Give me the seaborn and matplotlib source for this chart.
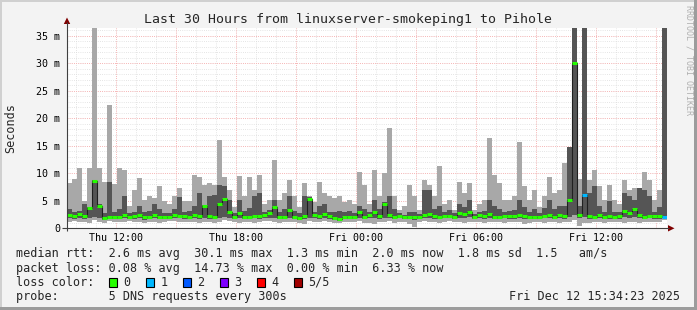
import numpy as np
import pandas as pd
import matplotlib
matplotlib.use("Agg")
import matplotlib.pyplot as plt
import seaborn as sns
from matplotlib.patches import Rectangle, Polygon

sns.set_style("white")
plt.rcParams["font.family"] = ["DejaVu Sans Mono", "DejaVu Sans"]

# ---------------- data (15-minute bins, milliseconds) ----------------
start_hour = 9.573          # Thu 09:34:23 (hours since Thu 00:00)
step_hours = 0.25

rtt_max = [8.2, 8.9, 10.9, 5.0, 10.9, 40.0, 10.9, 8.5, 22.4, 8.0,
           10.9, 10.6, 4.0, 7.0, 9.1, 5.2, 5.8, 5.5, 7.6, 5.0,
           4.5, 5.8, 7.3, 5.0, 5.0, 9.7, 9.4, 7.9, 8.2, 7.9,
           16.0, 9.4, 7.0, 3.9, 9.5, 5.8, 9.4, 7.0, 9.7, 4.5,
           5.2, 12.4, 5.2, 6.4, 8.8, 5.8, 3.9, 8.2, 5.8, 4.8,
           8.5, 6.4, 5.8, 5.5, 5.8, 4.8, 5.2, 4.5, 10.3, 7.9,
           4.5, 10.6, 5.8, 10.0, 18.2, 5.8, 3.3, 4.0, 7.9, 5.8,
           3.3, 8.8, 7.9, 5.8, 11.3, 4.5, 5.2, 3.3, 8.5, 6.4,
           8.2, 3.3, 4.5, 5.2, 16.4, 9.7, 8.2, 5.2, 5.2, 5.8,
           15.6, 7.6, 5.2, 7.0, 3.9, 5.8, 9.4, 6.4, 7.0, 11.8,
           14.8, 40.0, 9.0, 40.0, 8.8, 10.6, 7.6, 5.2, 7.9, 5.2,
           4.5, 8.8, 7.0, 7.3, 7.3, 10.3, 8.8, 5.2, 7.0, 40.0]

rtt_hi = [3.5, 3.0, 3.2, 4.4, 3.8, 8.8, 4.5, 2.8, 8.5, 3.0,
          3.5, 5.8, 2.8, 3.0, 4.0, 3.0, 3.2, 4.5, 3.5, 2.8,
          2.8, 3.5, 5.7, 3.0, 3.2, 4.0, 6.4, 4.2, 5.8, 6.1,
          7.9, 7.6, 5.2, 2.8, 5.2, 3.2, 3.6, 5.8, 6.4, 3.0,
          3.4, 5.2, 3.0, 3.5, 5.8, 3.2, 2.8, 5.8, 5.6, 3.0,
          4.0, 4.5, 3.0, 3.0, 3.2, 3.0, 3.2, 2.8, 4.0, 3.5,
          3.0, 5.2, 3.5, 4.8, 5.8, 3.5, 2.8, 2.5, 3.0, 3.0,
          2.6, 7.0, 6.9, 3.5, 4.0, 3.0, 3.4, 2.8, 4.5, 3.9,
          5.2, 2.6, 3.0, 3.2, 5.2, 4.0, 3.5, 3.0, 3.2, 3.4,
          5.2, 3.9, 3.0, 3.5, 2.8, 3.6, 5.2, 3.5, 4.0, 4.0,
          14.8, 40.0, 4.0, 40.0, 6.4, 7.6, 4.0, 3.0, 4.9, 3.0,
          3.0, 6.4, 5.8, 5.2, 7.3, 7.0, 5.8, 3.0, 3.9, 40.0]

rtt_med = [2.5, 2.2, 2.6, 2.2, 3.6, 8.6, 4.1, 1.9, 2.0, 2.0,
           2.0, 2.4, 2.0, 2.2, 2.5, 2.0, 2.0, 2.4, 2.0, 2.1,
           2.0, 2.5, 2.3, 2.2, 2.0, 2.4, 2.2, 4.1, 2.2, 2.0,
           4.5, 5.4, 3.0, 2.1, 2.7, 2.0, 2.1, 2.3, 2.2, 2.5,
           2.8, 3.9, 2.0, 2.0, 3.3, 2.1, 1.8, 2.3, 5.4, 2.5,
           2.2, 2.6, 2.2, 1.8, 1.6, 2.0, 2.0, 2.0, 3.0, 2.0,
           2.5, 3.0, 2.3, 4.5, 2.5, 2.0, 2.3, 2.0, 2.0, 2.0,
           2.0, 2.5, 2.6, 2.2, 2.0, 2.2, 2.3, 2.1, 2.7, 2.6,
           3.0, 2.0, 2.5, 2.2, 2.6, 2.0, 2.0, 2.3, 2.2, 2.2,
           2.5, 2.2, 2.0, 2.0, 2.0, 2.3, 2.4, 2.0, 2.5, 2.2,
           5.2, 30.1, 2.5, 6.0, 2.2, 2.0, 2.5, 2.0, 2.2, 2.0,
           2.2, 3.2, 2.8, 3.5, 2.5, 2.0, 2.3, 2.2, 2.2, 2.0]

rtt_lo = [1.8, 1.7, 1.9, 1.6, 1.8, 2.0, 1.9, 1.5, 1.7, 1.6,
          1.6, 1.8, 1.7, 1.6, 1.8, 1.5, 1.6, 1.8, 1.6, 1.7,
          1.7, 1.9, 1.8, 1.7, 1.6, 1.8, 1.7, 1.9, 1.7, 1.6,
          1.9, 2.0, 1.8, 1.7, 1.8, 1.6, 1.7, 1.8, 1.7, 1.9,
          1.9, 1.9, 1.6, 1.6, 1.8, 1.7, 1.5, 1.6, 1.9, 1.8,
          1.7, 1.9, 1.7, 1.5, 1.4, 1.6, 1.7, 1.7, 1.9, 1.6,
          1.8, 1.9, 1.7, 1.9, 1.8, 1.6, 1.8, 1.6, 1.6, 1.5,
          1.7, 1.8, 1.9, 1.7, 1.6, 1.8, 1.8, 1.7, 1.9, 1.8,
          2.0, 1.7, 1.8, 1.7, 1.8, 1.6, 1.6, 1.8, 1.7, 1.7,
          1.8, 1.6, 1.6, 1.7, 1.7, 1.8, 1.8, 1.6, 1.8, 1.7,
          2.0, 2.5, 1.8, 2.0, 1.7, 1.6, 1.8, 1.6, 1.7, 1.6,
          1.7, 2.0, 1.9, 2.0, 1.8, 1.6, 1.8, 1.7, 1.7, 1.8]

rtt_min = [1.2, 1.3, 1.1, 1.2, 1.0, 1.5, 1.2, 1.0, 1.3, 1.2,
           1.1, 1.2, 1.3, 1.1, 1.2, 1.0, 1.1, 1.2, 1.0, 1.2,
           1.3, 1.4, 1.2, 1.2, 1.1, 1.2, 1.0, 1.2, 1.1, 1.0,
           1.2, 1.5, 1.3, 1.2, 1.0, 1.1, 1.2, 1.0, 1.1, 1.4,
           1.3, 1.2, 1.0, 1.1, 1.2, 1.2, 1.0, 0.7, 1.3, 1.2,
           1.1, 1.3, 1.2, 1.0, 1.0, 1.1, 1.2, 1.2, 1.3, 1.0,
           1.0, 0.8, 1.1, 1.2, 1.3, 1.0, 1.1, 1.2, 0.8, 0.3,
           1.2, 1.3, 1.2, 1.1, 1.0, 1.2, 1.3, 1.2, 1.1, 1.0,
           1.2, 1.1, 1.2, 1.0, 1.2, 1.1, 1.2, 1.0, 1.1, 1.2,
           1.1, 0.7, 1.0, 1.2, 1.1, 1.0, 1.2, 1.1, 1.0, 1.1,
           1.2, 1.5, 0.5, 1.0, 1.0, 1.2, 1.1, 1.0, 1.2, 1.1,
           1.2, 1.0, 1.2, 1.1, 1.0, 1.1, 1.2, 1.1, 1.2, 1.5]

# bins with packet loss (bin index, lost pings); all others 0
loss_events = [(103, 1), (119, 1)]

loss_labels = ["0", "1", "2", "3", "4", "5/5"]
loss_colors = ["#26ff00", "#00b8ff", "#0059ff", "#7e00ff", "#ff0000", "#a10000"]

x_tick_hours = [12, 18, 24, 30, 36]
x_tick_labels = ["Thu 12:00", "Thu 18:00", "Fri 00:00", "Fri 06:00", "Fri 12:00"]
y_tick_values = [0, 5, 10, 15, 20, 25, 30, 35]
y_tick_labels = ["0", "5 m", "10 m", "15 m", "20 m", "25 m", "30 m", "35 m"]

title = "Last 30 Hours from linuxserver-smokeping1 to Pihole"
stat_lines = [
    "median rtt:  2.6 ms avg  30.1 ms max  1.3 ms min  2.0 ms now  1.8 ms sd  1.5   am/s",
    "packet loss: 0.08 % avg  14.73 % max  0.00 % min  6.33 % now",
]
probe_line = "probe:       5 DNS requests every 300s"
stamp = "Fri Dec 12 15:34:23 2025"

# ---------------- figure ----------------
W, H = 697, 310
fig = plt.figure(figsize=(W / 100, H / 100), dpi=100, facecolor="#f3f3f3")
axL, axR, axT, axB = 67, 667, 28, 228.3
ax = fig.add_axes([axL / W, (H - axB) / H, (axR - axL) / W, (axB - axT) / H])
ax.set_facecolor("white")

n = len(rtt_med)
edges = start_hour + step_hours * np.arange(n + 1)
ext = lambda a: np.append(np.asarray(a, float), a[-1])
loss = np.zeros(n, dtype=int)
for i, l in loss_events:
    loss[i] = l

ax.set_xlim(start_hour, start_hour + 30)
ax.set_ylim(0, 36.4)

dot = (0, (1, 1.6))
for h in range(10, 40):
    ax.axvline(h, color="#dcdcdc", lw=0.6, ls=dot, zorder=0)
for v in range(1, 37):
    ax.axhline(v, color="#dcdcdc", lw=0.6, ls=dot, zorder=0)
for h in range(12, 40, 3):
    ax.axvline(h, color="#ffa8a8", lw=0.6, ls=dot, zorder=1)
for v in range(5, 37, 5):
    ax.axhline(v, color="#ffa8a8", lw=0.6, ls=dot, zorder=1)

ax.fill_between(edges, ext(rtt_min), ext(rtt_max), step="post",
                color="#a8a8a8", lw=0, zorder=2)
ax.fill_between(edges, ext(rtt_lo), ext(rtt_hi), step="post",
                color="#555555", lw=0, zorder=3)

df = pd.DataFrame({"t": edges, "median": ext(rtt_med)})
sns.lineplot(data=df, x="t", y="median", drawstyle="steps-post", color="#202020",
             lw=0.8, ax=ax, zorder=4, estimator=None, sort=False)
ax.hlines(rtt_med, edges[:-1], edges[1:], colors=[loss_colors[l] for l in loss],
          lw=2.2, zorder=5)

ax.set_xticks(x_tick_hours)
ax.set_xticklabels(x_tick_labels)
ax.set_xticks(range(10, 40), minor=True)
ax.set_yticks(y_tick_values)
ax.set_yticklabels(y_tick_labels)
ax.set_yticks(range(0, 37), minor=True)
ax.tick_params(axis="both", which="major", direction="in", length=3, width=0.7,
               color="#e07070", labelsize=7.2, labelcolor="#000000")
ax.tick_params(axis="y", which="major", pad=5)
ax.tick_params(axis="x", which="major", pad=3.5)
ax.tick_params(axis="both", which="minor", direction="in", length=2, width=0.7,
               color="#a0a0a0")
for s in ax.spines.values():
    s.set_visible(False)
ax.set_xlabel("")
ax.set_ylabel("Seconds", fontsize=8.5, va="center")
ax.yaxis.set_label_coords((10.5 - axL) / (axR - axL), 0.5)

# ---------------- overlay in pixel coordinates ----------------
ov = fig.add_axes([0, 0, 1, 1], facecolor="none", zorder=10)
ov.set_xlim(0, W)
ov.set_ylim(H, 0)
ov.axis("off")

# frame
ov.add_patch(Rectangle((0, 0), W, 2, color="#d0d0d0", lw=0))
ov.add_patch(Rectangle((0, 0), 2, H, color="#d0d0d0", lw=0))
ov.add_patch(Rectangle((W - 3, 0), 3, H, color="#9c9c9c", lw=0))
ov.add_patch(Rectangle((0, H - 3), W, 3, color="#9c9c9c", lw=0))

# axes lines and arrows
ov.plot([axL, axL], [axB + 3, 22], color="#404040", lw=0.8, solid_capstyle="butt")
ov.plot([axL - 5, 669], [axB, axB], color="#404040", lw=0.8, solid_capstyle="butt")
ov.add_patch(Polygon([(axL - 3.2, 24), (axL + 3.2, 24), (axL, 17.5)], color="#7f0000", lw=0))
ov.add_patch(Polygon([(668, axB - 3.2), (668, axB + 3.2), (674.5, axB)], color="#7f0000", lw=0))

ov.text(347.5, 23.5, title, ha="center", va="baseline", fontsize=9.5)
ov.text(689, 60, "RRDTOOL / TOBI OETIKER", rotation=270, fontsize=6,
        color="#b0b0b0", ha="center", va="center")

ov.text(16, 257.5, stat_lines[0], fontsize=8.5, va="baseline")
ov.text(16, 271.7, stat_lines[1], fontsize=8.5, va="baseline")
ov.text(16, 285.8, "loss color:", fontsize=8.5, va="baseline")
for k, (lab, col) in enumerate(zip(loss_labels, loss_colors)):
    bx = 108.5 + 37 * k
    ov.add_patch(Rectangle((bx, 278), 8.5, 8.5, fc=col, ec="black", lw=0.8))
    ov.text(bx + 15, 285.8, lab, fontsize=8.5, va="baseline")
ov.text(16, 300, probe_line, fontsize=8.5, va="baseline")
ov.text(680, 300, stamp, fontsize=8.5, va="baseline", ha="right")

fig.savefig("out.png", dpi=100, facecolor=fig.get_facecolor())
